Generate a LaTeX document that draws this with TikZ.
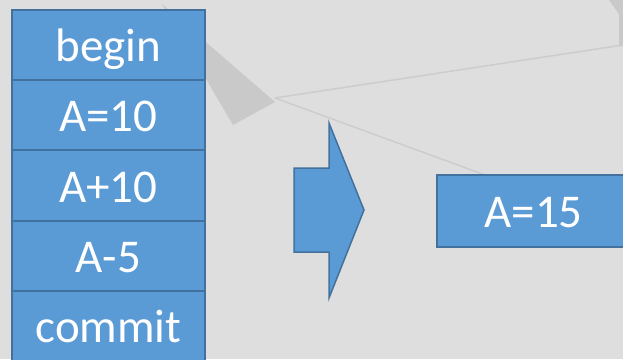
\documentclass[tikz,border=0pt]{standalone}
\usepackage{fontspec}
\setmainfont{Carlito}
\definecolor{bg}{HTML}{DEDEDE}
\definecolor{wedgegray}{HTML}{C9C9C9}
\definecolor{streak}{HTML}{CDCDCD}
\definecolor{boxfill}{HTML}{5B9BD5}
\definecolor{boxedge}{HTML}{41719C}
\tikzset{
  cell/.style={draw=boxedge, fill=boxfill, line width=2.2pt, text=white,
    font=\fontsize{47}{47}\selectfont, inner sep=0pt, outer sep=0pt,
    text height=33pt, text depth=0pt, anchor=north west},
}
\begin{document}
\begin{tikzpicture}[x=1pt, y=-1pt]
  \useasboundingbox (0,0) rectangle (623,359);
  \clip (0,0) rectangle (623,359);
  \fill[bg] (0,0) rectangle (623,359);

  % background decoration
  \fill[wedgegray] (162,4) -- (275,102) -- (233,125) -- cycle;
  \draw[streak, line width=1.5pt] (275,98) -- (623,45);
  \draw[streak, line width=1.5pt] (275,98) -- (485,175);
  \fill[wedgegray] (609,0) -- (623,0) -- (623,46) -- (619,46) -- (619,14) -- cycle;

  % transaction steps
  \node[cell, minimum width=193pt, minimum height=70pt] (begin)  at (12,10)  {begin};
  \node[cell, minimum width=193pt, minimum height=70pt] (set)    at (12,80)  {A=10};
  \node[cell, minimum width=193pt, minimum height=71pt] (add)    at (12,150) {A+10};
  \node[cell, minimum width=193pt, minimum height=70pt] (sub)    at (12,221) {A-5};
  \node[cell, minimum width=193pt, minimum height=70pt] (commit) at (12,291) {commit};

  % block arrow
  \filldraw[fill=boxfill, draw=boxedge, line width=1.5pt, line join=miter]
    (294,168) -- (329,168) -- (329,123) -- (364,210) -- (329,298)
    -- (329,252) -- (294,252) -- cycle;

  % result
  \node[cell, minimum width=193pt, minimum height=72pt] (result) at (437,175) {A=15};
\end{tikzpicture}
\end{document}
